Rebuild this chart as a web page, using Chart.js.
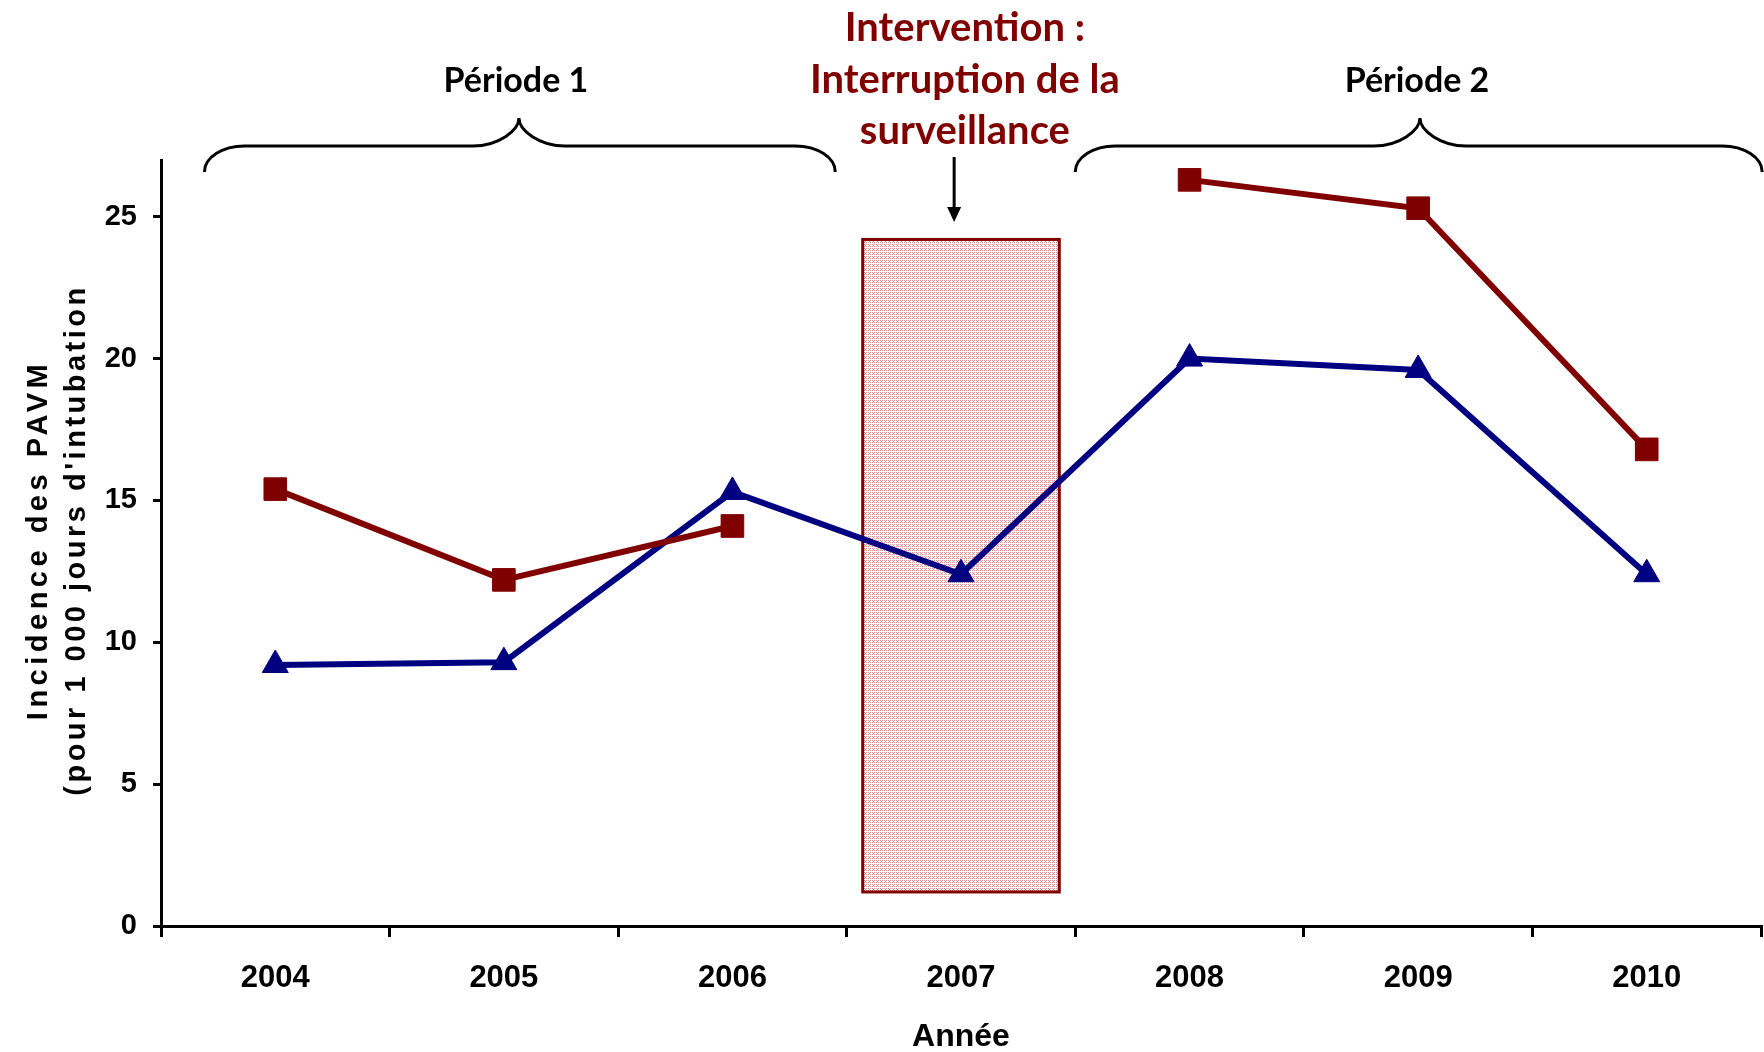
<!DOCTYPE html>
<html>
<head>
<meta charset="utf-8">
<script src="https://cdn.jsdelivr.net/npm/chart.js@4.4.1/dist/chart.umd.min.js"></script>
<style>
  html, body { margin: 0; padding: 0; background: #ffffff; }
  #wrap { width: 1764px; height: 1052px; }
</style>
</head>
<body>
<div id="wrap"><canvas id="chart" width="1764" height="1052"></canvas></div>
<script>
// Years on the x axis
const years = ['2004', '2005', '2006', '2007', '2008', '2009', '2010'];
// Incidence per 1 000 ventilation days (2007 has no square point)
const squareSeries = [15.4, 12.2, 14.1, null, 26.3, 25.3, 16.8];
const triangleSeries = [9.2, 9.3, 15.3, 12.4, 20.0, 19.6, 12.4];
// Y axis range and step
const yRange = [0, 27];
const yStep = 5;

// Text shown around the plot
const yTitleLines = ['Incidence des PAVM', "(pour 1 000 jours d'intubation"];
const xTitle = 'Année';
const periodLabels = ['Période 1', 'Période 2'];
const interventionLines = ['Intervention :', 'Interruption de la', 'surveillance'];

// Brace spans in category units: [start, tip, end]
const periodSpans = [[-0.31, 1.066, 2.45], [3.5, 5.008, 6.505]];
// Shaded intervention window: category span and value span
const interventionX = [2.57, 3.43];
const interventionY = [1.2, 24.2];

const DARK_RED = '#800000';
const NAVY = '#000080';

function makeStipple(ctx) {
  const pc = document.createElement('canvas');
  pc.width = 4; pc.height = 4;
  const p = pc.getContext('2d');
  p.fillStyle = '#ffffff';
  p.fillRect(0, 0, 4, 4);
  p.fillStyle = '#dc8f8f';
  [[0, 0], [2, 0], [1, 1], [0, 2], [2, 2]].forEach(([a, b]) => p.fillRect(a, b, 1, 1));
  return ctx.createPattern(pc, 'repeat');
}

const windowPlugin = {
  id: 'interventionWindow',
  beforeDatasetsDraw(chart) {
    const {ctx, scales: {x, y}} = chart;
    const x0 = x.getPixelForValue(interventionX[0]);
    const x1 = x.getPixelForValue(interventionX[1]);
    const y0 = y.getPixelForValue(interventionY[1]);
    const y1 = y.getPixelForValue(interventionY[0]);
    ctx.save();
    ctx.fillStyle = makeStipple(ctx);
    ctx.fillRect(x0, y0, x1 - x0, y1 - y0);
    ctx.strokeStyle = DARK_RED;
    ctx.lineWidth = 3;
    ctx.strokeRect(x0, y0, x1 - x0, y1 - y0);
    ctx.restore();
  }
};

function drawBrace(ctx, x1, xm, x2, yTip, yBar, yEnd) {
  const k = 0.5523;
  const r = 40, rm = 46;
  ctx.beginPath();
  ctx.moveTo(x1, yEnd);
  ctx.bezierCurveTo(x1, yEnd - k * (yEnd - yBar), x1 + r - k * r, yBar, x1 + r, yBar);
  ctx.lineTo(xm - rm, yBar);
  ctx.bezierCurveTo(xm - rm + k * rm, yBar, xm, yBar - k * (yBar - yTip), xm, yTip);
  ctx.bezierCurveTo(xm, yBar - k * (yBar - yTip), xm + rm - k * rm, yBar, xm + rm, yBar);
  ctx.lineTo(x2 - r, yBar);
  ctx.bezierCurveTo(x2 - r + k * r, yBar, x2, yEnd - k * (yEnd - yBar), x2, yEnd);
  ctx.stroke();
}

const annotationPlugin = {
  id: 'periodAnnotations',
  afterDraw(chart) {
    const {ctx, scales: {x, y}, chartArea} = chart;
    ctx.save();
    // Braces
    ctx.strokeStyle = '#000000';
    ctx.lineWidth = 3;
    periodSpans.forEach(s => {
      drawBrace(ctx, x.getPixelForValue(s[0]), x.getPixelForValue(s[1]), x.getPixelForValue(s[2]), 118, 146, 172);
    });
    // Period labels
    ctx.fillStyle = '#000000';
    ctx.font = 'bold 34px Lato, "Open Sans", sans-serif';
    ctx.textAlign = 'center';
    ctx.textBaseline = 'middle';
    periodLabels.forEach((t, i) => ctx.fillText(t, x.getPixelForValue(periodSpans[i][1]) - 3, 81));
    // Intervention text
    ctx.fillStyle = DARK_RED;
    ctx.font = 'bold 40px Lato, "Open Sans", sans-serif';
    const cx = x.getPixelForValue(3.017);
    [28, 80, 131].forEach((yy, i) => ctx.fillText(interventionLines[i], cx, yy));
    // Arrow
    const ax = x.getPixelForValue(2.97);
    ctx.strokeStyle = '#000000';
    ctx.lineWidth = 3;
    ctx.beginPath();
    ctx.moveTo(ax, 157);
    ctx.lineTo(ax, 210);
    ctx.stroke();
    ctx.fillStyle = '#000000';
    ctx.beginPath();
    ctx.moveTo(ax - 7, 207);
    ctx.lineTo(ax + 7, 207);
    ctx.lineTo(ax, 222);
    ctx.closePath();
    ctx.fill();
    // Y axis title
    ctx.translate(0, (chartArea.top + chartArea.bottom) / 2 - 3);
    ctx.rotate(-Math.PI / 2);
    ctx.font = 'bold 29px "Liberation Sans", Arial, sans-serif';
    ctx.fillStyle = '#000000';
    ctx.letterSpacing = '4.5px';
    ctx.fillText(yTitleLines[0], 0, 39);
    ctx.letterSpacing = '3.5px';
    ctx.fillText(yTitleLines[1], 0, 77);
    ctx.restore();
  }
};

new Chart(document.getElementById('chart'), {
  type: 'line',
  data: {
    labels: years,
    datasets: [
      {
        data: squareSeries,
        borderColor: DARK_RED,
        backgroundColor: DARK_RED,
        borderWidth: 6,
        pointStyle: 'rect',
        pointRadius: 16,
        pointHoverRadius: 16,
        pointBorderWidth: 1,
        spanGaps: false,
        tension: 0
      },
      {
        data: triangleSeries,
        borderColor: NAVY,
        backgroundColor: NAVY,
        borderWidth: 6,
        pointStyle: 'triangle',
        pointRadius: 15,
        pointHoverRadius: 15,
        pointBorderWidth: 1,
        tension: 0
      }
    ]
  },
  options: {
    responsive: false,
    animation: false,
    events: [],
    layout: { autoPadding: false, padding: { top: 160, right: 3, left: 0, bottom: 0 } },
    plugins: { legend: { display: false }, tooltip: { enabled: false } },
    scales: {
      x: {
        type: 'category',
        offset: true,
        afterFit(s) { s.height = 126; },
        border: { display: true, color: '#000000', width: 3 },
        grid: { display: true, offset: true, drawOnChartArea: false, drawTicks: true, tickLength: 11, lineWidth: 3, color: '#000000' },
        ticks: { color: '#000000', padding: 23, font: { family: '"Liberation Sans", Arial, sans-serif', size: 31, weight: 'bold' } },
        title: { display: true, text: xTitle, color: '#000000', padding: { top: 0, bottom: 0 }, font: { family: '"Liberation Sans", Arial, sans-serif', size: 32, weight: 'bold', lineHeight: 0.95 } }
      },
      y: {
        min: yRange[0],
        max: yRange[1],
        afterFit(s) { s.width = 161; },
        border: { display: true, color: '#000000', width: 3 },
        grid: { display: true, drawOnChartArea: false, drawTicks: true, tickLength: 8, lineWidth: 3, color: '#000000' },
        ticks: { stepSize: yStep, includeBounds: false, color: '#000000', padding: 16, font: { family: '"Liberation Sans", Arial, sans-serif', size: 29, weight: 'bold' } }
      }
    }
  },
  plugins: [windowPlugin, annotationPlugin]
});
</script>
</body>
</html>
